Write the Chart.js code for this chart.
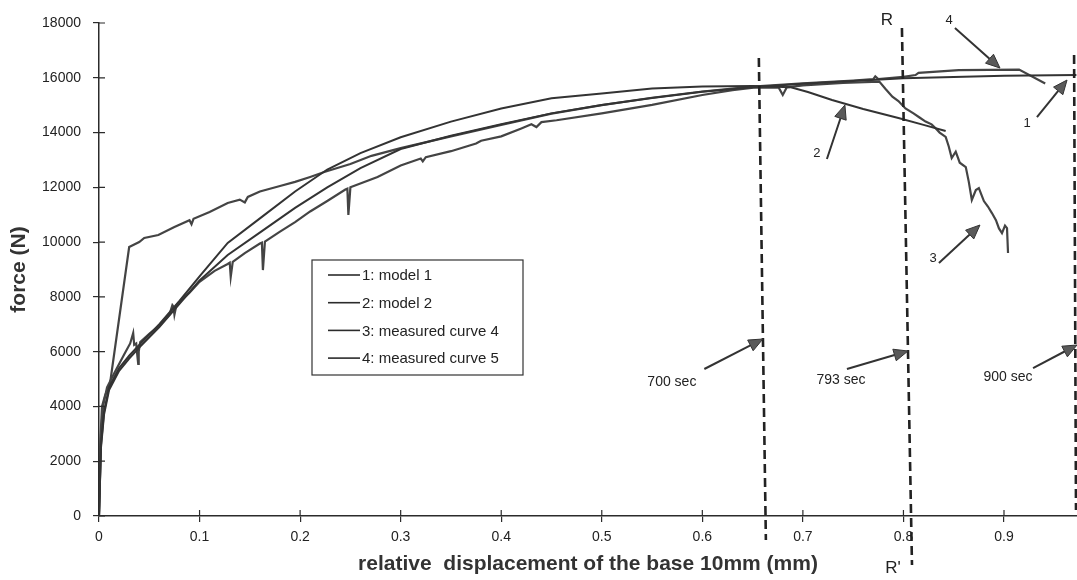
<!DOCTYPE html>
<html>
<head>
<meta charset="utf-8">
<title>force vs displacement</title>
<script src="https://cdn.jsdelivr.net/npm/chart.js@4.4.0/dist/chart.umd.min.js"></script>
<style>
  body { margin: 0; background: #fff; }
  canvas { display: block; }
</style>
</head>
<body>
<canvas id="forceChart" width="1077" height="580"></canvas>
<script>
// axis ticks
const xTicks = [0, 0.1, 0.2, 0.3, 0.4, 0.5, 0.6, 0.7, 0.8, 0.9];
const yTicks = [0, 2000, 4000, 6000, 8000, 10000, 12000, 14000, 16000, 18000];

// 1: model 1
const model1X = [0, 0.002, 0.005, 0.01, 0.02, 0.03, 0.04, 0.06, 0.08, 0.1, 0.128, 0.162, 0.195, 0.227, 0.26, 0.3, 0.35, 0.4, 0.45, 0.5, 0.55, 0.6, 0.65, 0.7, 0.75, 0.8, 0.85, 0.9, 0.972];
const model1Y = [0, 2500, 3700, 4600, 5300, 5750, 6150, 6900, 7750, 8600, 9530, 10400, 11250, 12000, 12700, 13400, 13880, 14300, 14700, 15010, 15260, 15490, 15650, 15780, 15880, 15980, 16030, 16070, 16100];

// 2: model 2
const model2X = [0, 0.002, 0.005, 0.01, 0.02, 0.03, 0.04, 0.06, 0.08, 0.1, 0.128, 0.162, 0.195, 0.227, 0.26, 0.3, 0.35, 0.4, 0.45, 0.5, 0.55, 0.6, 0.65, 0.688, 0.705, 0.729, 0.76, 0.795, 0.82, 0.842];
const model2Y = [0, 2600, 3800, 4700, 5400, 5850, 6250, 7000, 7850, 8750, 9970, 10920, 11850, 12650, 13250, 13830, 14400, 14880, 15250, 15430, 15610, 15680, 15700, 15650, 15480, 15190, 14860, 14530, 14280, 14056];

// 3: measured curve 4
const meas4X = [0, 0.002, 0.004, 0.008, 0.015, 0.025, 0.031, 0.034, 0.035, 0.037, 0.038, 0.039, 0.0395, 0.041, 0.05, 0.06, 0.07, 0.073, 0.074, 0.075, 0.077, 0.09, 0.1, 0.115, 0.128, 0.13, 0.131, 0.133, 0.145, 0.16, 0.162, 0.163, 0.165, 0.18, 0.195, 0.21, 0.227, 0.245, 0.247, 0.248, 0.25, 0.277, 0.3, 0.32, 0.322, 0.325, 0.35, 0.375, 0.38, 0.4, 0.42, 0.43, 0.435, 0.44, 0.455, 0.5, 0.55, 0.6, 0.63, 0.653, 0.676, 0.68, 0.684, 0.7, 0.74, 0.776, 0.782, 0.789, 0.795, 0.802, 0.81, 0.816, 0.822, 0.828, 0.832, 0.836, 0.842, 0.845, 0.848, 0.852, 0.856, 0.862, 0.865, 0.868, 0.872, 0.875, 0.88, 0.884, 0.888, 0.892, 0.895, 0.898, 0.901, 0.903, 0.904];
const meas4Y = [0, 3000, 4000, 4700, 5200, 5900, 6300, 6680, 6250, 6300, 5900, 5550, 6000, 6350, 6650, 6950, 7350, 7700, 7650, 7350, 7700, 8150, 8550, 8950, 9200, 9250, 8730, 9280, 9600, 9950, 9980, 8980, 10020, 10380, 10730, 11120, 11500, 11920, 11950, 10990, 12000, 12380, 12800, 13050, 12950, 13100, 13320, 13600, 13700, 13860, 14150, 14300, 14200, 14380, 14450, 14700, 15010, 15370, 15550, 15650, 15640, 15370, 15650, 15720, 15810, 15860, 15600, 15310, 15150, 14880, 14700, 14550, 14400, 14300, 14160, 14000, 13840, 13500, 13070, 13300, 12900, 12740, 12200, 11540, 11900, 11970, 11500, 11300, 11060, 10800, 10500, 10330, 10600, 10510, 9600];

// 4: measured curve 5
const meas5X = [0, 0.001, 0.003, 0.006, 0.011, 0.03, 0.04, 0.045, 0.059, 0.075, 0.09, 0.092, 0.094, 0.11, 0.128, 0.14, 0.145, 0.148, 0.16, 0.18, 0.195, 0.21, 0.224, 0.25, 0.271, 0.3, 0.35, 0.4, 0.45, 0.5, 0.55, 0.6, 0.65, 0.7, 0.75, 0.77, 0.772, 0.775, 0.8, 0.812, 0.815, 0.855, 0.915, 0.941];
const meas5Y = [0, 2500, 4000, 4400, 4850, 9820, 10000, 10150, 10260, 10550, 10800, 10650, 10850, 11100, 11430, 11550, 11450, 11650, 11850, 12050, 12200, 12380, 12560, 12850, 13150, 13430, 13860, 14280, 14690, 15000, 15270, 15500, 15680, 15800, 15900, 15950, 16050, 15950, 16030, 16100, 16180, 16280, 16300, 15790];

const seriesLabels = ['1: model 1', '2: model 2', '3: measured curve 4', '4: measured curve 5'];

// dashed time markers (x at top / bottom end, y range)
const timeMarks = [
  { label: '700 sec', x0: 0.6562, x1: 0.6632, y0: 16720, y1: -876 },
  { label: '793 sec', x0: 0.7985, x1: 0.8085, y0: 17817, y1: -1789 },
  { label: '900 sec', x0: 0.9697, x1: 0.9716, y0: 16830, y1: 219 }
];

// callouts: text position, arrow tail and tip, all in axis units
const callouts = [
  { text: '700 sec', at: [0.5697, 4892], from: [0.602, 5367], to: [0.6602, 6462], size: 14 },
  { text: '793 sec', at: [0.7378, 4965], from: [0.7438, 5367], to: [0.8045, 6024], size: 14 },
  { text: '900 sec', at: [0.904, 5075], from: [0.9289, 5403], to: [0.9726, 6243], size: 14 },
  { text: '4', at: [0.8453, 18109], from: [0.8512, 17817], to: [0.896, 16356], size: 13 },
  { text: '1', at: [0.9229, 14348], from: [0.9328, 14567], to: [0.9627, 15918], size: 13 },
  { text: '2', at: [0.714, 13253], from: [0.7239, 13034], to: [0.7418, 15006], size: 13 },
  { text: '3', at: [0.8294, 9420], from: [0.8353, 9237], to: [0.8761, 10624], size: 13 },
  { text: 'R', at: [0.7836, 18109], size: 17 },
  { text: "R'", at: [0.7896, -1899], size: 17 }
];

const FONT = "'Liberation Sans', Arial, sans-serif";
const INK = '#2b2b2b';

function toPoints(xs, ys) {
  return xs.map((x, i) => ({ x: x, y: ys[i] }));
}

function arrow(ctx, x0, y0, x1, y1) {
  const ang = Math.atan2(y1 - y0, x1 - x0);
  const len = 14, half = 6;
  const bx = x1 - len * Math.cos(ang), by = y1 - len * Math.sin(ang);
  ctx.beginPath();
  ctx.moveTo(x0, y0);
  ctx.lineTo(bx, by);
  ctx.lineWidth = 2;
  ctx.strokeStyle = '#333';
  ctx.stroke();
  ctx.beginPath();
  ctx.moveTo(x1, y1);
  ctx.lineTo(bx + half * Math.sin(ang), by - half * Math.cos(ang));
  ctx.lineTo(bx - half * Math.sin(ang), by + half * Math.cos(ang));
  ctx.closePath();
  ctx.fillStyle = '#5a5a5a';
  ctx.fill();
  ctx.lineWidth = 1;
  ctx.strokeStyle = '#333';
  ctx.stroke();
}

// ticks crossing the axes, dashed markers, callouts and the boxed legend
const overlay = {
  id: 'overlay',
  afterDraw(chart) {
    const { ctx, chartArea: area, scales: { x, y } } = chart;
    const px = v => x.getPixelForValue(v);
    const py = v => y.getPixelForValue(v);
    ctx.save();

    ctx.strokeStyle = INK;
    ctx.lineWidth = 1.2;
    ctx.beginPath();
    xTicks.forEach(v => { ctx.moveTo(px(v), area.bottom); ctx.lineTo(px(v), area.bottom - 6); });
    yTicks.forEach(v => { ctx.moveTo(area.left, py(v)); ctx.lineTo(area.left + 6, py(v)); });
    ctx.stroke();

    ctx.setLineDash([9, 5]);
    ctx.lineWidth = 2.6;
    ctx.strokeStyle = '#222';
    timeMarks.forEach(m => {
      ctx.beginPath();
      ctx.moveTo(px(m.x0), py(m.y0));
      ctx.lineTo(px(m.x1), py(m.y1));
      ctx.stroke();
    });
    ctx.setLineDash([]);

    ctx.textAlign = 'center';
    ctx.textBaseline = 'middle';
    callouts.forEach(c => {
      if (c.from) arrow(ctx, px(c.from[0]), py(c.from[1]), px(c.to[0]), py(c.to[1]));
      ctx.fillStyle = '#222';
      ctx.font = c.size + 'px ' + FONT;
      ctx.fillText(c.text, px(c.at[0]), py(c.at[1]));
    });

    // legend box
    const lx = area.left + 213, ly = area.top + 237;
    ctx.lineWidth = 1.2;
    ctx.strokeStyle = '#333';
    ctx.strokeRect(lx, ly, 211, 115);
    ctx.font = '15px ' + FONT;
    ctx.textAlign = 'left';
    chart.data.datasets.forEach((ds, i) => {
      const ry = ly + 15 + i * 27.7;
      ctx.beginPath();
      ctx.moveTo(lx + 16, ry);
      ctx.lineTo(lx + 48, ry);
      ctx.lineWidth = 1.6;
      ctx.strokeStyle = INK;
      ctx.stroke();
      ctx.fillStyle = '#222';
      ctx.fillText(ds.label, lx + 50, ry + 1);
    });
    ctx.restore();
  }
};

const lineStyle = { showLine: true, pointRadius: 0, tension: 0, fill: false };

new Chart(document.getElementById('forceChart').getContext('2d'), {
  type: 'scatter',
  data: {
    datasets: [
      { ...lineStyle, label: seriesLabels[0], data: toPoints(model1X, model1Y), borderColor: '#333', borderWidth: 2 },
      { ...lineStyle, label: seriesLabels[1], data: toPoints(model2X, model2Y), borderColor: '#333', borderWidth: 2 },
      { ...lineStyle, label: seriesLabels[2], data: toPoints(meas4X, meas4Y), borderColor: '#444', borderWidth: 2.2 },
      { ...lineStyle, label: seriesLabels[3], data: toPoints(meas5X, meas5Y), borderColor: '#444', borderWidth: 2.2 }
    ]
  },
  options: {
    responsive: false,
    animation: false,
    devicePixelRatio: 1,
    layout: { padding: { top: 23, right: 0, bottom: 0, left: 0 } },
    plugins: {
      legend: { display: false },
      tooltip: { enabled: false }
    },
    scales: {
      x: {
        type: 'linear',
        min: 0,
        max: 0.9726,
        afterBuildTicks: axis => { axis.ticks = xTicks.map(v => ({ value: v })); },
        afterFit: axis => { axis.height = 64; },
        ticks: {
          callback: v => (v === 0 ? '0' : v.toFixed(1)),
          font: { family: FONT, size: 14 },
          color: '#222',
          padding: 7,
          maxRotation: 0,
          autoSkip: false
        },
        grid: { display: true, drawOnChartArea: false, drawTicks: true, tickLength: 6, color: INK, lineWidth: 1.2 },
        border: { display: true, color: INK, width: 1.5 },
        title: {
          display: true,
          text: 'relative  displacement of the base 10mm (mm)',
          font: { family: FONT, size: 21, weight: 'bold' },
          color: '#333',
          padding: { top: 2, bottom: 3 }
        }
      },
      y: {
        min: 0,
        max: 18000,
        afterBuildTicks: axis => { axis.ticks = yTicks.map(v => ({ value: v })); },
        afterFit: axis => { axis.width = 99; },
        ticks: {
          callback: v => String(v),
          font: { family: FONT, size: 14 },
          color: '#222',
          padding: 12,
          autoSkip: false
        },
        grid: { display: true, drawOnChartArea: false, drawTicks: true, tickLength: 6, color: INK, lineWidth: 1.2 },
        border: { display: true, color: INK, width: 1.5 },
        title: {
          display: true,
          text: 'force (N)',
          font: { family: FONT, size: 21, weight: 'bold' },
          color: '#333',
          padding: { top: 7, bottom: 4 }
        }
      }
    }
  },
  plugins: [overlay]
});
</script>
</body>
</html>
